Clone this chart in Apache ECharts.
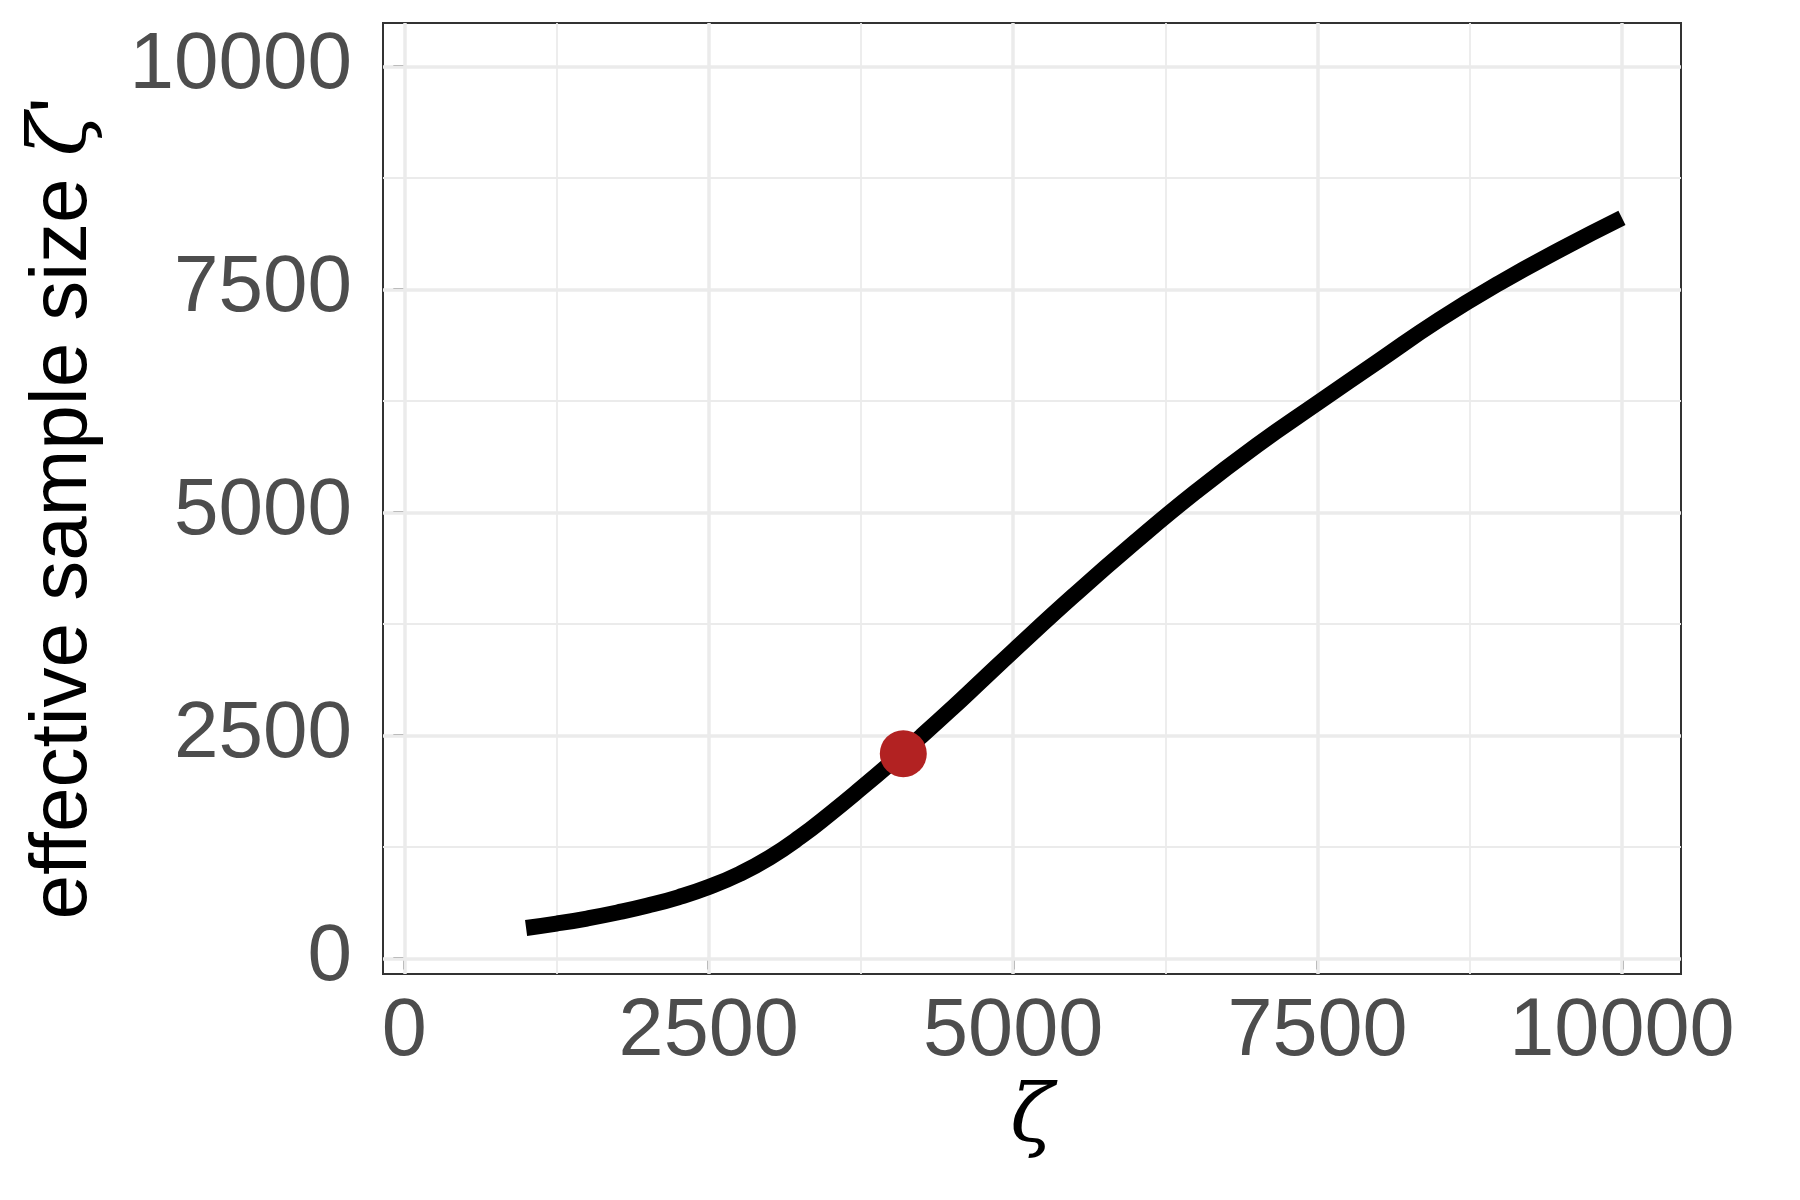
<!DOCTYPE html>
<html>
<head>
<meta charset="utf-8">
<script src="https://cdn.jsdelivr.net/npm/echarts@6/dist/echarts.min.js"></script>
<style>
html,body{margin:0;padding:0;background:#fff;}
#chart{width:1800px;height:1200px;}
</style>
</head>
<body>
<div id="chart"></div>
<script>
// curve: zeta -> effective sample size
const zeta = [1000,1250,1500,1750,2000,2250,2500,2750,3000,3250,3500,3750,4000,4250,4500,4750,5000,5500,6000,6500,7000,7500,8000,8500,9000,9500,10000];
const ess  = [341,390,447,514,592,685,800,945,1130,1360,1625,1905,2195,2495,2805,3125,3445,4070,4665,5230,5750,6225,6695,7160,7575,7950,8300];
// highlighted point
const pointX = [4098];
const pointY = [2294];
// tick and gridline values
const xTicks = [0,2500,5000,7500,10000];
const yTicks = [0,2500,5000,7500,10000];
const xMinor = [1250,3750,6250,8750];
const yMinor = [1250,3750,6250,8750];

const chart = echarts.init(document.getElementById('chart'), null, {renderer:'canvas', width:1800, height:1200});

const major = {color:'#EBEBEB', width:3.5, type:'solid'};
const minor = {color:'#EBEBEB', width:1.8, type:'solid'};
const gridData = []
  .concat(xMinor.map(v => ({xAxis:v, lineStyle:minor})))
  .concat(yMinor.map(v => ({yAxis:v, lineStyle:minor})))
  .concat(xTicks.map(v => ({xAxis:v, lineStyle:major})))
  .concat(yTicks.map(v => ({yAxis:v, lineStyle:major})));

const sans = 'Liberation Sans, Arial, Helvetica, sans-serif';
const plain = v => String(v);
const option = {
  animation:false,
  backgroundColor:'#fff',
  grid:{left:383, top:23, right:119, bottom:226, show:true, borderColor:'#333333', borderWidth:2, backgroundColor:'#fff'},
  xAxis:{
    type:'value', min:-175, max:10485,
    axisLine:{show:false},
    splitLine:{show:false},
    axisTick:{show:true, customValues:xTicks, length:11, lineStyle:{color:'#333333', width:3}},
    axisLabel:{customValues:xTicks, formatter:plain, fontSize:81, color:'#4D4D4D', fontFamily:sans, margin:18},
    name:'ζ', nameLocation:'middle', nameGap:106,
    nameTextStyle:{fontFamily:'DejaVu Serif', fontStyle:'italic', fontSize:80, color:'#000'}
  },
  yAxis:{
    type:'value', min:-175, max:10485,
    axisLine:{show:false},
    splitLine:{show:false},
    axisTick:{show:true, customValues:yTicks, length:11, lineStyle:{color:'#333333', width:3}},
    axisLabel:{customValues:yTicks, formatter:plain, fontSize:80, color:'#4D4D4D', fontFamily:sans, margin:31},
    name:"effective sample size {z|ζ}{p|'}", nameLocation:'middle', nameRotate:90, nameGap:279,
    nameTextStyle:{fontFamily:sans, fontSize:80, color:'#000', padding:[0,20,0,0],
      rich:{
        z:{fontFamily:'DejaVu Serif', fontStyle:'italic', fontSize:80, color:'#000'},
        p:{fontFamily:sans, fontSize:80, color:'#000'}
      }}
  },
  series:[
    {
      type:'line', data:[], z:1, silent:true,
      markLine:{silent:true, symbol:['none','none'], label:{show:false}, z:1, animation:false,
        emphasis:{disabled:true}, data:gridData}
    },
    {
      type:'line', z:3, silent:true,
      data: zeta.map((x,i) => [x, ess[i]]),
      showSymbol:false, symbol:'none', smooth:0.5,
      lineStyle:{color:'#000', width:16, cap:'butt', join:'round'}
    },
    {
      type:'scatter', z:4, silent:true,
      data: pointX.map((x,i) => [x, pointY[i]]),
      symbol:'circle', symbolSize:47,
      itemStyle:{color:'#B22222', opacity:1}
    }
  ]
};
chart.setOption(option);
</script>
</body>
</html>
